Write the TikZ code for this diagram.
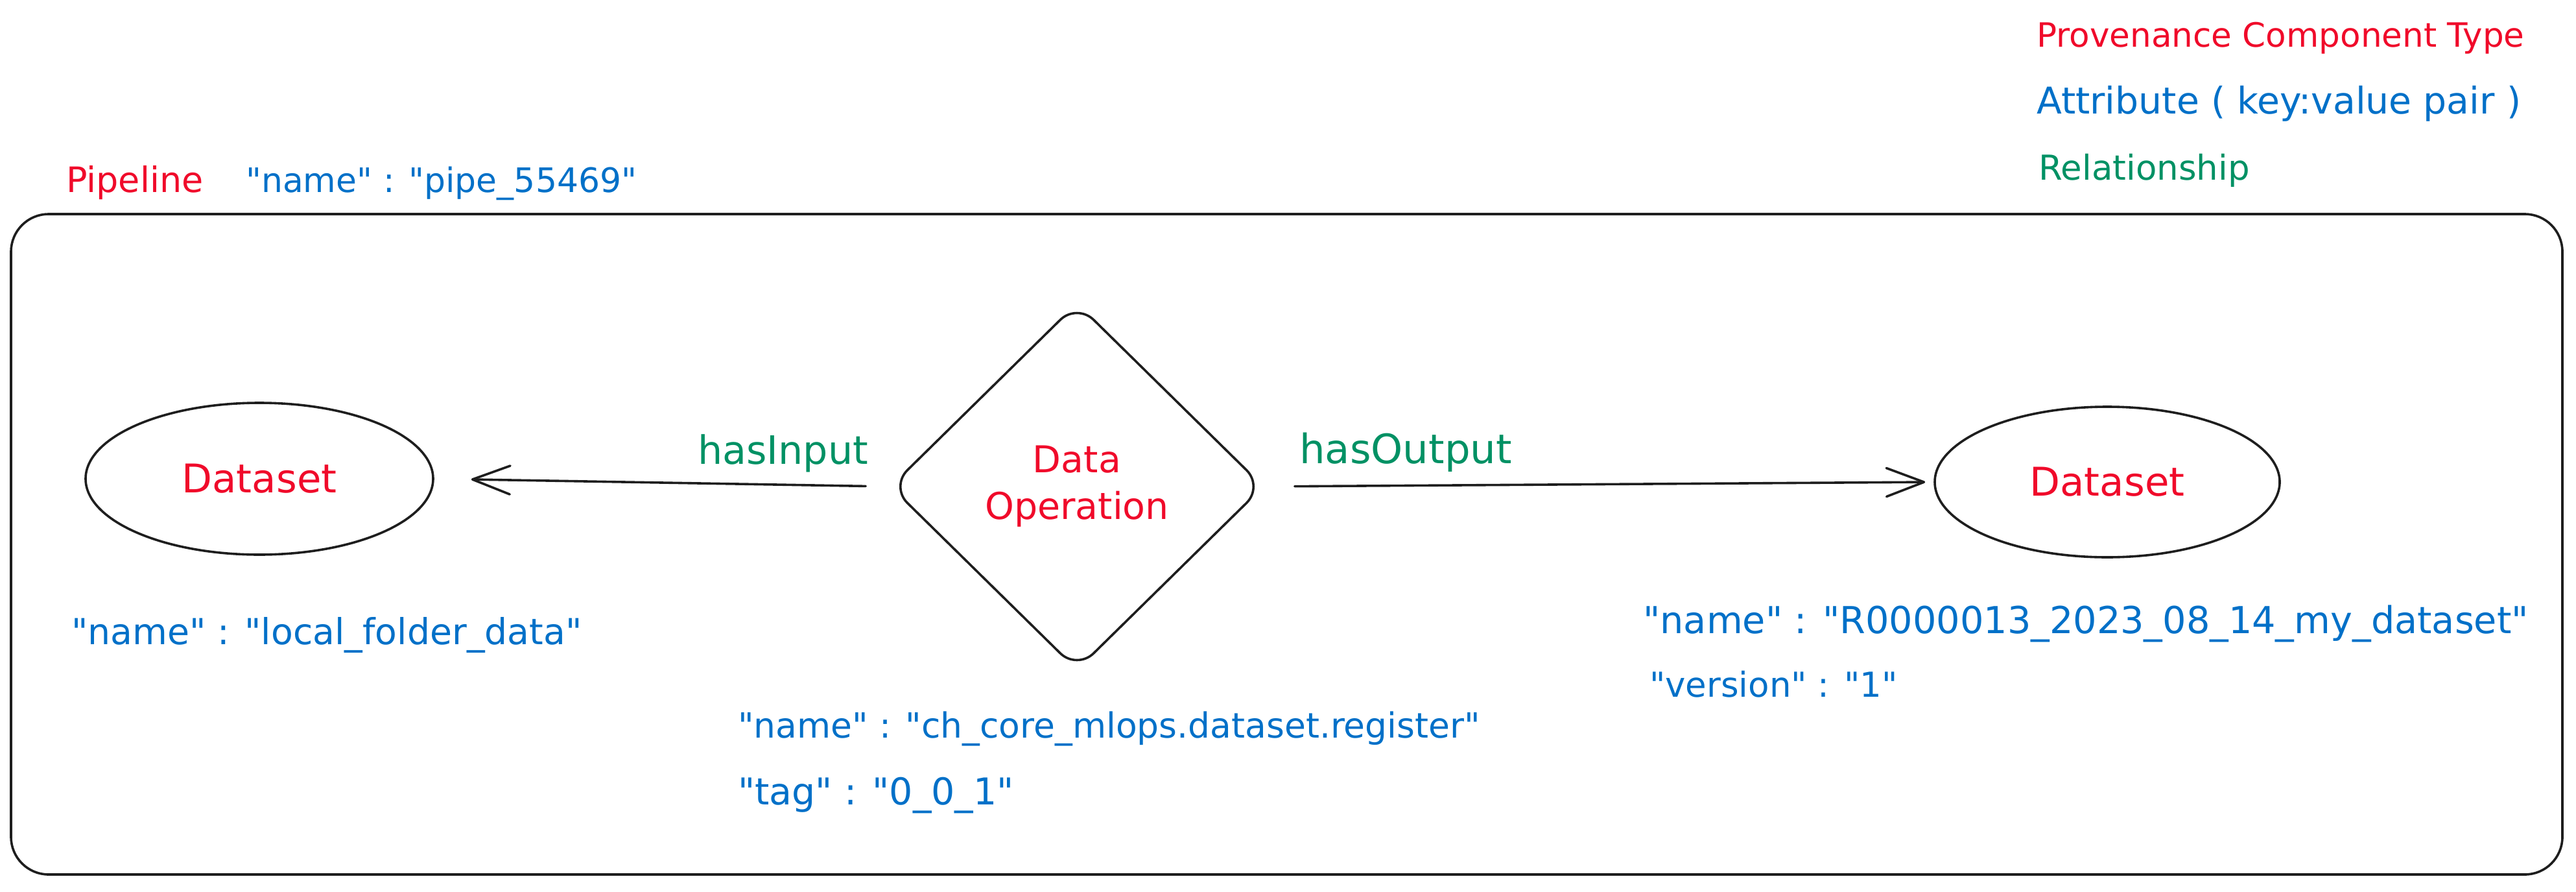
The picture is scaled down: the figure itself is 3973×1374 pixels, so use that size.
\documentclass[tikz,border=0pt]{standalone}
\usepackage{fontspec}
\newfontfamily\handfont{DejaVu Sans}
\usetikzlibrary{shapes.geometric,arrows.meta}
\definecolor{pred}{RGB}{240,10,42}
\definecolor{pblue}{RGB}{0,112,200}
\definecolor{pgreen}{RGB}{0,145,100}
\definecolor{ink}{RGB}{30,30,30}
\tikzset{
  txt/.style={inner sep=0pt, anchor=base west, font=\handfont\fontsize{#1pt}{#1pt}\selectfont},
  comp/.style={text=pred},
  attr/.style={text=pblue},
  rel/.style={text=pgreen},
  stroke/.style={draw=ink, line width=3.6pt},
  entity/.style={stroke, ellipse, inner sep=0pt, text=pred,
    font=\handfont\fontsize{61pt}{62pt}\selectfont},
  opbox/.style={stroke, diamond, rounded corners=36pt, inner sep=0pt, align=center,
    text=pred, font=\handfont\fontsize{57pt}{72pt}\selectfont},
  link/.style={stroke, line cap=round, -{Straight Barb[length=58pt,width=44pt,round]}}
}
\begin{document}
\begin{tikzpicture}[x=1pt,y=-1pt]
\useasboundingbox (0,0) rectangle (3973,1374);

% legend
\node[txt=51.6, comp] (legcomp) at (3141,72) {Provenance Component Type};
\node[txt=56.8, attr] (legattr) at (3141,175) {Attribute ( key:value pair )};
\node[txt=53, rel] (legrel) at (3144,277) {Relationship};

% pipeline container
\node[stroke, rounded corners=58pt, minimum width=3935pt, minimum height=1018pt,
      inner sep=0pt] (pipeline) at (1984.5,839) {};
\node[txt=54, comp] (pipelabel) at (102,296) {Pipeline};
\node[txt=52, attr] (pipeattr) at (379,296) {"name" : "pipe\_55469"};

% components
\node[entity, minimum width=536pt, minimum height=234pt] (dsin) at (400,738) {Dataset};
\node[entity, minimum width=532pt, minimum height=232pt] (dsout) at (3250,743) {Dataset};
\node[opbox, minimum width=576pt, minimum height=566pt] (op) at (1661,750) {Data\\Operation};

% relationships
\draw[link, shorten <=36pt, shorten >=57pt] (op.west) -- (dsin.east);
\draw[link, shorten <=46pt, shorten >=13pt] (op.east) -- (dsout.west);
\node[txt=60.3, rel] (relin) at (1076,715) {hasInput};
\node[txt=62.5, rel] (relout) at (2004,714) {hasOutput};

% attributes
\node[txt=55.3, attr] (attrin) at (110,993) {"name" : "local\_folder\_data"};
\node[txt=53.5, attr] (attrop1) at (1138,1137) {"name" : "ch\_core\_mlops.dataset.register"};
\node[txt=57, attr] (attrop2) at (1138,1240) {"tag" : "0\_0\_1"};
\node[txt=57.3, attr] (attrout1) at (2534,976) {"name" : "R0000013\_2023\_08\_14\_my\_dataset"};
\node[txt=53, attr] (attrout2) at (2544,1074) {"version" : "1"};
\end{tikzpicture}
\end{document}
